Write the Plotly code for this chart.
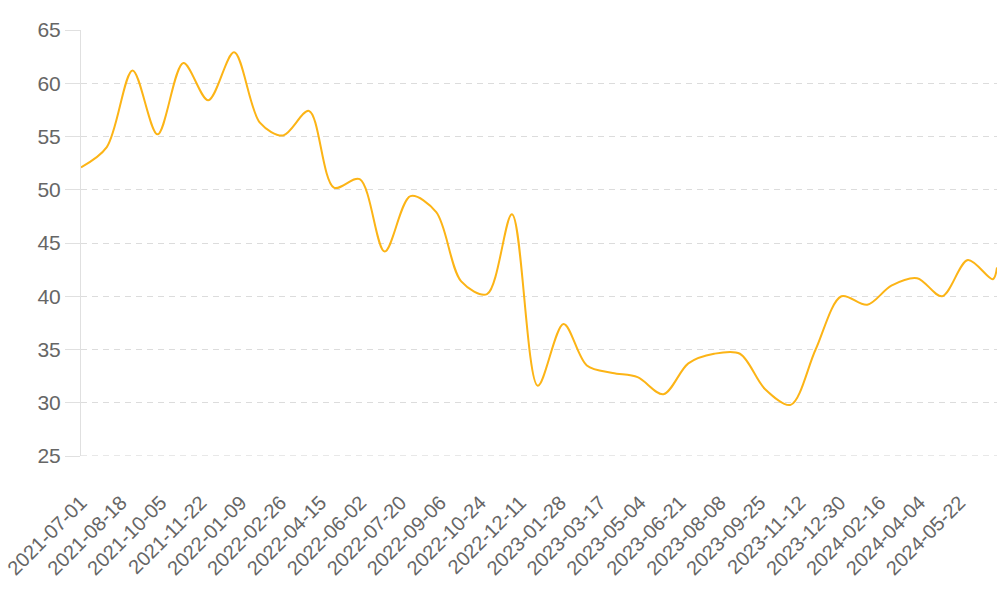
import plotly.graph_objects as go

# monthly observations (first of month) plus the latest reading
dates = [
    "2021-07-01", "2021-08-01", "2021-09-01", "2021-10-01", "2021-11-01", "2021-12-01",
    "2022-01-01", "2022-02-01", "2022-03-01", "2022-04-01", "2022-05-01", "2022-06-01",
    "2022-07-01", "2022-08-01", "2022-09-01", "2022-10-01", "2022-11-01", "2022-12-01",
    "2023-01-01", "2023-02-01", "2023-03-01", "2023-04-01", "2023-05-01", "2023-06-01",
    "2023-07-01", "2023-08-01", "2023-09-01", "2023-10-01", "2023-11-01", "2023-12-01",
    "2024-01-01", "2024-02-01", "2024-03-01", "2024-04-01", "2024-05-01", "2024-06-01",
    "2024-07-01", "2024-07-06",
]
values = [
    52.1, 54.0, 61.2, 55.2, 61.9, 58.4,
    62.9, 56.3, 55.1, 57.4, 50.2, 51.0,
    44.2, 49.4, 47.9, 41.4, 40.2, 47.7,
    31.6, 37.4, 33.5, 32.8, 32.4, 30.8,
    33.7, 34.6, 34.6, 31.3, 29.8, 35.0,
    40.0, 39.2, 41.0, 41.7, 40.0, 43.4,
    41.6, 42.7,
]

# category-axis labels (every 48th day)
tick_labels = [
    "2021-07-01", "2021-08-18", "2021-10-05", "2021-11-22", "2022-01-09", "2022-02-26",
    "2022-04-15", "2022-06-02", "2022-07-20", "2022-09-06", "2022-10-24", "2022-12-11",
    "2023-01-28", "2023-03-17", "2023-05-04", "2023-06-21", "2023-08-08", "2023-09-25",
    "2023-11-12", "2023-12-30", "2024-02-16", "2024-04-04", "2024-05-22",
]
y_ticks = [25, 30, 35, 40, 45, 50, 55, 60, 65]

fig = go.Figure()
fig.add_trace(go.Scatter(
    x=dates, y=values, mode="lines",
    line=dict(color="#fcb416", width=2, shape="spline", smoothing=0.9),
    hoverinfo="x+y", showlegend=False,
))

grid = "#dcdcdc"
fig.update_layout(
    width=1000, height=600,
    margin=dict(l=81, r=3, t=30, b=144),
    paper_bgcolor="white", plot_bgcolor="white",
    font=dict(family="Liberation Sans, Arial, sans-serif", size=20, color="#666666"),
    xaxis=dict(
        type="date", automargin=False,
        range=[dates[0], dates[-1]],
        tickmode="array", tickvals=tick_labels, ticktext=tick_labels,
        tickangle=-45, showgrid=False, zeroline=False, showline=False,
        ticks="outside", ticklen=26, tickcolor="rgba(0,0,0,0)",
        tickfont=dict(size=20, color="#666666"),
    ),
    yaxis=dict(
        range=[25, 65], tickvals=y_ticks, automargin=False,
        showgrid=True, gridcolor=grid, griddash="6px,5px", gridwidth=1,
        zeroline=False, showline=True, linecolor="#e0e0e0", linewidth=1,
        ticks="outside", ticklen=15, tickcolor="#e0e0e0",
        tickfont=dict(size=21, color="#666666"),
    ),
)
fig.add_shape(type="line", xref="paper", yref="y", x0=0, x1=1, y0=25, y1=25,
              line=dict(color="#d0d0d0", width=1, dash="6px,5px"), layer="below")

fig.write_html("out.html", config={"displayModeBar": False},
               post_script="document.body.style.margin='0';document.body.style.overflow='hidden';")
